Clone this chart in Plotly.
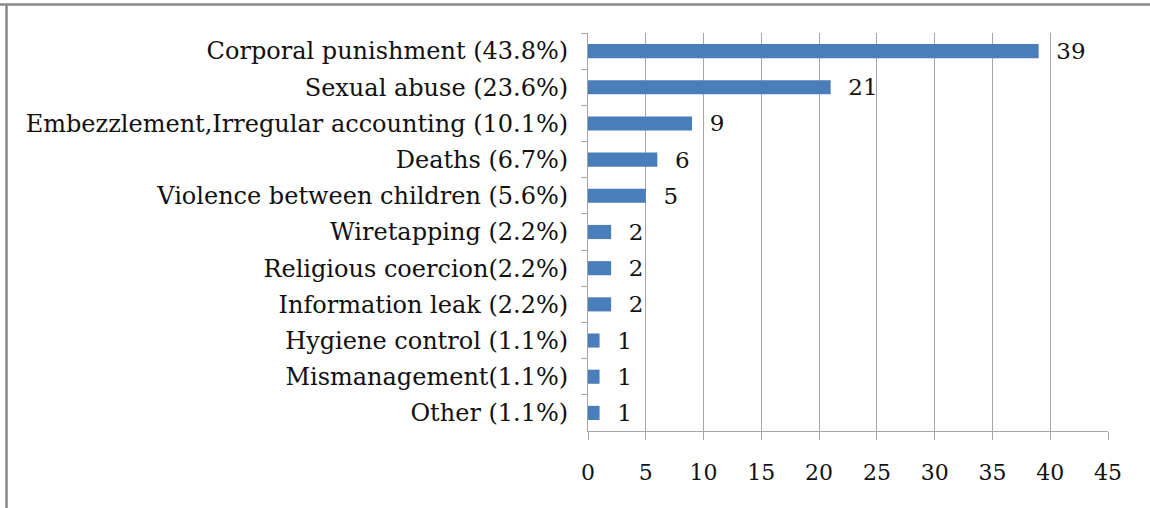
import plotly.graph_objects as go

categories = [
    "Corporal punishment (43.8%)",
    "Sexual abuse (23.6%)",
    "Embezzlement,Irregular accounting (10.1%)",
    "Deaths (6.7%)",
    "Violence between children (5.6%)",
    "Wiretapping (2.2%)",
    "Religious coercion(2.2%)",
    "Information leak (2.2%)",
    "Hygiene control (1.1%)",
    "Mismanagement(1.1%)",
    "Other (1.1%)",
]
counts = [39, 21, 9, 6, 5, 2, 2, 2, 1, 1, 1]
x_ticks = [0, 5, 10, 15, 20, 25, 30, 35, 40, 45]

FONT = "DejaVu Serif"
W, H = 1150, 508
L, R, T, B = 588, 42, 33, 77
pw, ph = W - L - R, H - T - B

fig = go.Figure(
    go.Bar(
        y=categories,
        x=counts,
        orientation="h",
        marker=dict(color="#4a7ebb", line=dict(width=0)),
        texttemplate="  %{x}",
        textposition="outside",
        constraintext="none",
        textfont=dict(family=FONT, size=23, color="#111111"),
        cliponaxis=False,
        width=0.39,
    )
)

fig.update_layout(
    width=W,
    height=H,
    margin=dict(l=L, r=R, t=T, b=B, pad=0),
    paper_bgcolor="white",
    plot_bgcolor="white",
    showlegend=False,
    font=dict(family=FONT, size=23, color="#111111"),
    shapes=[
        dict(type="line", xref="paper", yref="paper",
             x0=(0 - L) / pw, x1=(W - L) / pw,
             y0=1 + (T - 4.5) / ph, y1=1 + (T - 4.5) / ph,
             line=dict(color="#8a8a8a", width=2.5)),
        dict(type="line", xref="paper", yref="paper",
             x0=(6.5 - L) / pw, x1=(6.5 - L) / pw,
             y0=1 + (T - 4.5) / ph, y1=-(B + 5) / ph,
             line=dict(color="#8a8a8a", width=2.5)),
    ],
)

fig.update_xaxes(
    range=[0, 45],
    tickvals=x_ticks,
    ticktext=[str(v) for v in x_ticks],
    showgrid=True,
    gridcolor="#a6a6a6",
    gridwidth=1,
    showline=True,
    linecolor="#a6a6a6",
    linewidth=1,
    ticks="outside",
    ticklen=8,
    tickcolor="#a6a6a6",
    tickfont=dict(family=FONT, size=22, color="#111111"),
    ticklabelstandoff=14,
    zeroline=False,
    fixedrange=True,
)

fig.update_yaxes(
    categoryorder="array",
    categoryarray=categories,
    autorange="reversed",
    showgrid=False,
    showline=True,
    linecolor="#a6a6a6",
    linewidth=1,
    ticks="outside",
    tickson="boundaries",
    ticklen=6,
    tickcolor="#a6a6a6",
    tickfont=dict(family=FONT, size=24, color="#111111"),
    ticklabelstandoff=14,
    fixedrange=True,
)

fig.write_html(
    "out.html",
    config={"displayModeBar": False},
    post_script="document.body.style.margin='0';document.body.style.overflow='hidden';",
)
